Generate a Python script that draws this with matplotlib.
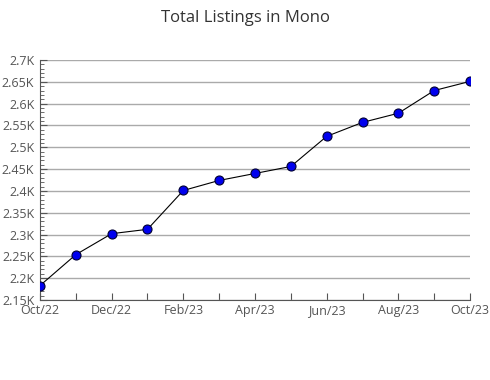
import matplotlib
matplotlib.use("Agg")
import matplotlib.pyplot as plt
from matplotlib.ticker import MultipleLocator, FuncFormatter

# --- data ---
months = ["Oct/22", "Nov/22", "Dec/22", "Jan/23", "Feb/23", "Mar/23", "Apr/23",
          "May/23", "Jun/23", "Jul/23", "Aug/23", "Sep/23", "Oct/23"]
listings = [2183, 2254, 2302, 2312, 2401, 2424, 2440, 2456, 2525, 2557, 2578, 2630, 2651]

plt.rcParams['font.family'] = ['Open Sans', 'DejaVu Sans']

fig = plt.figure(figsize=(4.9, 3.8), dpi=100)
ax = fig.add_axes([0.0816, 0.2105, 0.8776, 0.6316])

x = list(range(len(months)))
ax.plot(x, listings, color='black', linewidth=0.8, marker='o', markersize=6.5,
        markerfacecolor='#0000ee', markeredgecolor='#000033', markeredgewidth=0.8,
        zorder=3)

ax.set_xlim(0, len(months) - 1)
ax.set_ylim(2150, 2700)
ax.yaxis.set_major_locator(MultipleLocator(50))
ax.yaxis.set_minor_locator(MultipleLocator(10))
ax.yaxis.set_major_formatter(FuncFormatter(lambda v, p: f"{v/1000:g}K"))

ax.set_xticks(x)
ax.set_xticklabels([m if i % 2 == 0 else "" for i, m in enumerate(months)])

ax.grid(True, axis='y', color='#aaaaaa', linewidth=1)
ax.set_axisbelow(True)
for s in ['top', 'right']:
    ax.spines[s].set_visible(False)
for s in ['left', 'bottom']:
    ax.spines[s].set_color('#555555')

ax.tick_params(axis='both', which='major', direction='in', length=5, color='#555555',
               labelsize=9, labelcolor='#555555')
ax.tick_params(axis='y', which='minor', direction='in', length=3, color='#555555')
ax.tick_params(axis='y', pad=4)
ax.tick_params(axis='x', pad=3)

fig.suptitle("Total Listings in Mono", x=0.5, y=0.975, fontsize=12, color='#333333')

fig.savefig("out.png", dpi=100)
